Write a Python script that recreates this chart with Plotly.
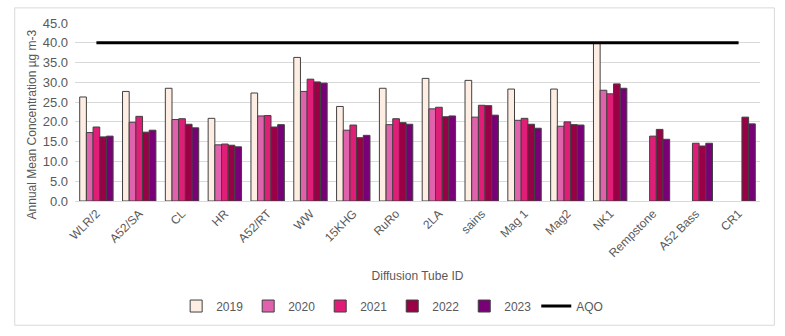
import plotly.graph_objects as go

categories = ["WLR/2", "A52/SA", "CL", "HR", "A52/RT", "WW", "15KHG", "RuRo", "2LA",
              "sains", "Mag 1", "Mag2", "NK1", "Rempstone", "A52 Bass", "CR1"]
y2019 = [26.3, 27.7, 28.5, 20.9, 27.3, 36.3, 23.9, 28.5, 31.0, 30.5, 28.3, 28.3, 40.0, None, None, None]
y2020 = [17.3, 19.9, 20.6, 14.2, 21.5, 27.7, 17.9, 19.3, 23.3, 21.2, 20.4, 18.9, 28.0, None, None, None]
y2021 = [18.7, 21.4, 20.8, 14.4, 21.6, 30.8, 19.2, 20.8, 23.7, 24.2, 20.9, 20.0, 27.1, 16.4, 14.6, None]
y2022 = [16.2, 17.4, 19.4, 14.1, 18.7, 30.1, 16.0, 19.8, 21.3, 24.1, 19.4, 19.3, 29.6, 18.1, 13.9, 21.2]
y2023 = [16.4, 17.9, 18.5, 13.7, 19.3, 29.8, 16.6, 19.4, 21.5, 21.7, 18.4, 19.2, 28.5, 15.6, 14.6, 19.5]
aqo = [40.0] * len(categories)

series = [("2019", y2019, "#FDEDE3"), ("2020", y2020, "#E062AC"), ("2021", y2021, "#E01E78"),
          ("2022", y2022, "#9A0046"), ("2023", y2023, "#7A0078")]

fig = go.Figure()
for name, vals, col in series:
    fig.add_trace(go.Bar(x=categories, y=vals, name=name, marker=dict(color=col, line=dict(color="#404040", width=1))))
fig.add_trace(go.Scatter(x=categories, y=aqo, name="AQO", mode="lines", line=dict(color="black", width=3)))

font = "Liberation Sans, Arial, sans-serif"
fig.update_layout(
    width=785, height=336, margin=dict(l=75, r=25, t=23, b=135),
    paper_bgcolor="white", plot_bgcolor="white",
    barmode="group", bargap=0.22, bargroupgap=0,
    font=dict(family=font, size=11, color="#595959"),
    legend=dict(orientation="h", x=0.463, xanchor="center", y=-0.59, yanchor="middle",
                font=dict(size=12, color="#595959"), itemwidth=30, traceorder="normal"),
    showlegend=True,
    shapes=[dict(type="rect", xref="paper", yref="paper", x0=-0.088, x1=1.021, y0=-0.698, y1=1.085,
                 line=dict(color="#D9D9D9", width=1), fillcolor="rgba(0,0,0,0)", layer="below")],
    annotations=[dict(text="Annual Mean Concentration µg m-3", xref="paper", yref="paper",
                      x=-0.0628, y=0.43, xanchor="center", yanchor="middle", textangle=-90,
                      showarrow=False, font=dict(size=12, color="#595959"))],
)
fig.update_xaxes(tickangle=-45, tickfont=dict(size=12, color="#595959"),
                 title=dict(text="Diffusion Tube ID", font=dict(size=12, color="#595959"), standoff=12),
                 showline=True, linecolor="#D9D9D9", ticks="")
fig.update_yaxes(range=[0, 45], dtick=5, tickformat=".1f", gridcolor="#D9D9D9", zeroline=False,
                 tickfont=dict(size=13, color="#595959"), ticklabelstandoff=6)

fig.write_html("out.html")
